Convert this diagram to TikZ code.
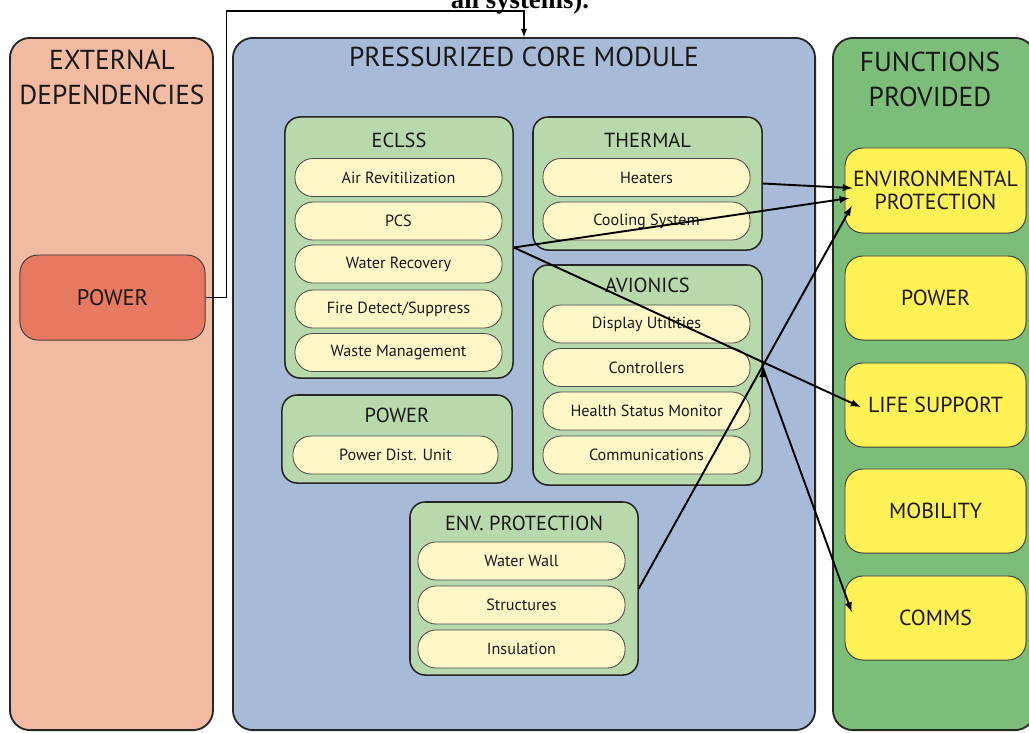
\documentclass[tikz,border=0pt]{standalone}
\usepackage{fontspec}
\setmainfont{PT Sans}
\newfontfamily\notefont{Liberation Serif}

\definecolor{extbg}{RGB}{241,186,161}
\definecolor{extpow}{RGB}{231,122,96}
\definecolor{corebg}{RGB}{167,186,215}
\definecolor{funcbg}{RGB}{124,190,121}
\definecolor{groupbg}{RGB}{184,217,171}
\definecolor{subbg}{RGB}{255,247,200}
\definecolor{funcitem}{RGB}{255,241,86}

\begin{document}
\begin{tikzpicture}
	[x=0.025cm,y=-0.025cm,
	panelbox/.style={draw=black!85,line width=1.3pt,rounded corners=0.5cm,minimum height=17.3cm},
	paneltitle/.style={align=center,text=black!90,font=\fontsize{19.5}{25}\selectfont},
	sysgroup/.style={draw=black!85,line width=1.1pt,rounded corners=0.38cm,fill=groupbg,minimum width=5.7cm},
	grouptitle/.style={text=black!90,font=\fontsize{14.5}{16}\selectfont},
	subsys/.style={draw=black!70,line width=0.6pt,rounded corners=0.45cm,fill=subbg,minimum width=5.175cm,minimum height=0.95cm,text=black!90,font=\fontsize{11.5}{13}\selectfont},
	funcbox/.style={draw=black!75,line width=0.7pt,rounded corners=0.45cm,fill=funcitem,minimum width=4.525cm,minimum height=2.1cm,align=center,text=black!90,font=\fontsize{15.5}{16}\selectfont},
	flow/.style={-latex,draw,line width=1.35pt}]
	\useasboundingbox[fill=white] (0,0) rectangle (1029,732);
	\node[anchor=base,font=\notefont\bfseries\fontsize{19}{22}\selectfont] (note) at (520,8) {all systems).};
	% the three columns
	\node[panelbox,fill=extbg,minimum width=5.075cm] (ext) at (111.5,384) {};
	\node[panelbox,fill=corebg,minimum width=14.55cm] (core) at (524,384) {};
	\node[panelbox,fill=funcbg,minimum width=5.05cm] (funcs) at (934,384) {};
	\node[paneltitle] (exttitle) at (112,77) {EXTERNAL\\DEPENDENCIES};
	\node[paneltitle] (coretitle) at (524,57) {PRESSURIZED CORE MODULE};
	\node[paneltitle] (functitle) at (930,79) {FUNCTIONS\\PROVIDED};
	\node[draw=black!75,line width=0.7pt,rounded corners=0.45cm,fill=extpow,minimum width=4.625cm,minimum height=2.125cm,text=black!90,font=\fontsize{16}{18}\selectfont] (extpower) at (112.5,297.5) {POWER};
	% ECLSS
	\node[sysgroup,minimum height=6.525cm] (eclss) at (399,247.5) {};
	\node[grouptitle] (eclsstitle) at (399,140) {ECLSS};
	\node[subsys] (airrev) at (398.5,177.5) {Air Revitilization};
	\node[subsys] (pcs) at (398.5,221) {PCS};
	\node[subsys] (waterrec) at (398.5,264) {Water Recovery};
	\node[subsys] (fire) at (398.5,309) {Fire Detect/Suppress};
	\node[subsys] (waste) at (398.5,352.5) {Waste Management};
	% THERMAL
	\node[sysgroup,minimum width=5.725cm,minimum height=3.325cm] (thermal) at (647.5,183.5) {};
	\node[grouptitle] (thermaltitle) at (647.5,140) {THERMAL};
	\node[subsys] (heaters) at (646.5,177.5) {Heaters};
	\node[subsys] (cooling) at (646.5,221) {Cooling System};
	% AVIONICS
	\node[sysgroup,minimum width=5.725cm,minimum height=5.5cm] (avionics) at (647.5,375) {};
	\node[grouptitle] (avionicstitle) at (647.5,285) {AVIONICS};
	\node[subsys] (display) at (646.5,324) {Display Utilities};
	\node[subsys] (controllers) at (646.5,367.5) {Controllers};
	\node[subsys] (health) at (646.5,411) {Health Status Monitor};
	\node[subsys] (comms) at (646.5,455) {Communications};
	% POWER
	\node[sysgroup,minimum width=5.75cm,minimum height=2.2cm] (power) at (397,439) {};
	\node[grouptitle] (powertitle) at (397,415) {POWER};
	\node[subsys,minimum width=5.125cm] (pdu) at (395.5,455) {Power Dist. Unit};
	% ENV. PROTECTION
	\node[sysgroup,minimum height=4.325cm] (envprot) at (524,588.5) {};
	\node[grouptitle] (envprottitle) at (524,523) {ENV. PROTECTION};
	\node[subsys] (waterwall) at (521.5,561) {Water Wall};
	\node[subsys] (structures) at (521.5,605) {Structures};
	\node[subsys] (insulation) at (521.5,649) {Insulation};
	% functions
	\node[funcbox,minimum height=2.125cm] (env) at (935.5,190.5) {ENVIRONMENTAL\\PROTECTION};
	\node[funcbox] (fpower) at (935.5,298) {POWER};
	\node[funcbox] (lifesup) at (935.5,405) {LIFE SUPPORT};
	\node[funcbox] (mobility) at (935.5,511) {MOBILITY};
	\node[funcbox] (fcomms) at (935.5,618) {COMMS};
	% connections
	\draw[-latex,line width=1pt] (extpower.east) -- ++(21,0) |- ([yshift=0.65cm]core.north) -- (core.north);
	\path[flow]
	(thermal.east) edge ([xshift=0.2cm,yshift=0.06cm]env.west)
	(eclss.east) edge ([xshift=0.12cm,yshift=-0.19cm]env.west)
	(eclss.east) edge ([xshift=0.4cm,yshift=-0.05cm]lifesup.west)
	(envprot.east) edge ([xshift=0.18cm,yshift=-0.39cm]env.west)
	(avionics.east |- controllers.east) edge ([xshift=0.18cm,yshift=0.15cm]fcomms.west);
\end{tikzpicture}
\end{document}
